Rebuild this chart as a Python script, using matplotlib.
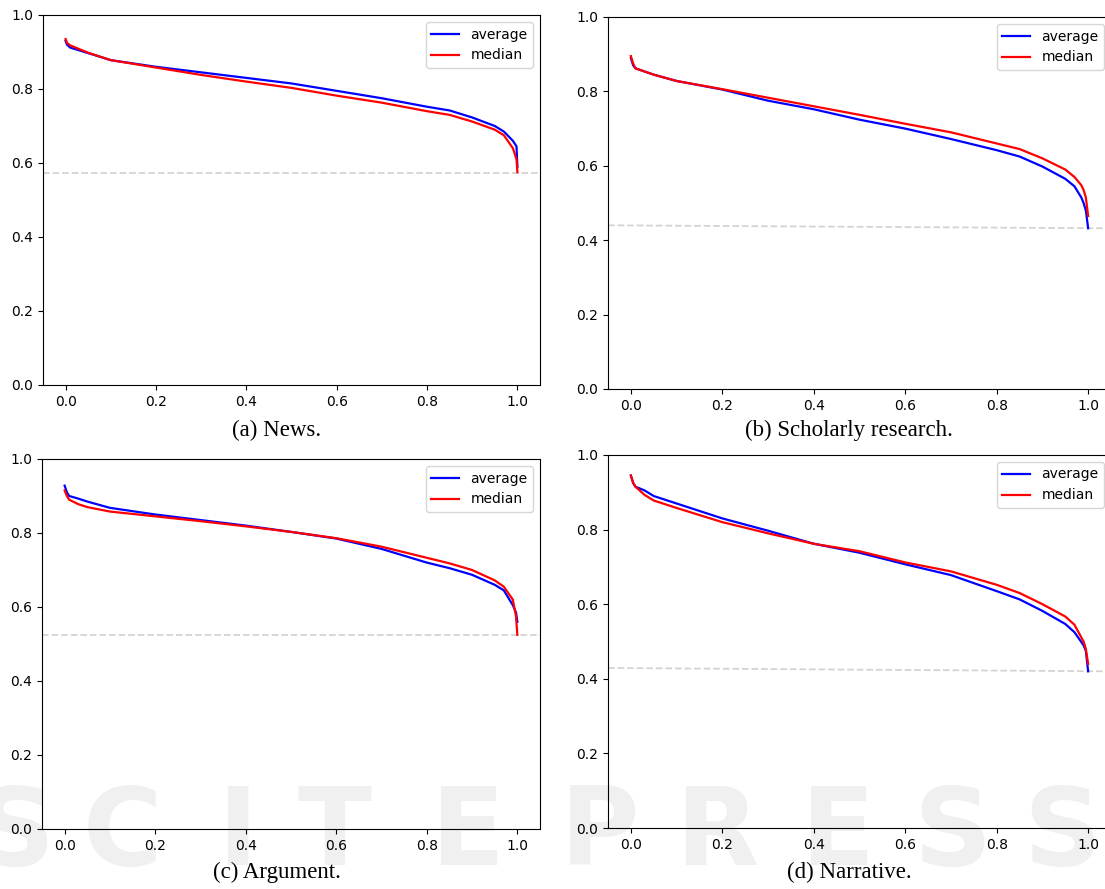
import matplotlib
matplotlib.use("Agg")
import matplotlib.pyplot as plt

W, H = 1105, 889

# ---- data ----
# (a) News
q_a = [0.0, 0.003, 0.01, 0.05, 0.1, 0.2, 0.3, 0.4, 0.5, 0.6, 0.7, 0.8, 0.85, 0.9, 0.95, 0.97, 0.99, 0.998, 1.0]
avg_a = [0.930, 0.920, 0.912, 0.897, 0.878, 0.860, 0.845, 0.830, 0.815, 0.795, 0.775, 0.752, 0.742, 0.723, 0.700, 0.685, 0.660, 0.645, 0.590]
med_a = [0.935, 0.925, 0.918, 0.898, 0.878, 0.858, 0.838, 0.820, 0.803, 0.782, 0.763, 0.740, 0.730, 0.712, 0.690, 0.675, 0.640, 0.610, 0.575]
base_a = [0.572, 0.572]

# (b) Scholarly research
q_b = [0.0, 0.005, 0.01, 0.05, 0.1, 0.2, 0.3, 0.4, 0.5, 0.6, 0.7, 0.8, 0.85, 0.9, 0.95, 0.97, 0.985, 0.99, 0.995, 1.0]
avg_b = [0.890, 0.870, 0.862, 0.845, 0.828, 0.805, 0.775, 0.752, 0.724, 0.700, 0.672, 0.642, 0.625, 0.598, 0.565, 0.545, 0.515, 0.500, 0.480, 0.432]
med_b = [0.895, 0.875, 0.862, 0.845, 0.828, 0.806, 0.783, 0.760, 0.737, 0.713, 0.690, 0.660, 0.645, 0.620, 0.590, 0.570, 0.548, 0.535, 0.515, 0.465]
base_b = [0.440, 0.432]

# (c) Argument
q_c = [0.0, 0.005, 0.01, 0.03, 0.05, 0.1, 0.2, 0.3, 0.4, 0.5, 0.6, 0.7, 0.8, 0.85, 0.9, 0.95, 0.97, 0.99, 0.997, 1.0]
avg_c = [0.928, 0.910, 0.900, 0.893, 0.885, 0.868, 0.850, 0.835, 0.820, 0.803, 0.785, 0.757, 0.720, 0.705, 0.687, 0.660, 0.645, 0.605, 0.585, 0.560]
med_c = [0.915, 0.900, 0.890, 0.878, 0.870, 0.858, 0.845, 0.832, 0.818, 0.803, 0.786, 0.763, 0.733, 0.718, 0.700, 0.672, 0.655, 0.620, 0.575, 0.525]
base_c = [0.524, 0.524]

# (d) Narrative
q_d = [0.0, 0.005, 0.01, 0.03, 0.05, 0.1, 0.2, 0.3, 0.4, 0.5, 0.6, 0.7, 0.8, 0.85, 0.9, 0.95, 0.97, 0.99, 0.995, 1.0]
avg_d = [0.945, 0.925, 0.915, 0.905, 0.890, 0.870, 0.830, 0.797, 0.762, 0.738, 0.707, 0.678, 0.635, 0.613, 0.582, 0.547, 0.525, 0.490, 0.475, 0.420]
med_d = [0.945, 0.925, 0.915, 0.893, 0.878, 0.858, 0.820, 0.790, 0.762, 0.742, 0.712, 0.688, 0.652, 0.630, 0.600, 0.567, 0.545, 0.500, 0.480, 0.440]
base_d = [0.429, 0.420]

captions = ["(a) News.", "(b) Scholarly research.", "(c) Argument.", "(d) Narrative."]
series_labels = ["average", "median"]

panels = [
    (q_a, avg_a, med_a, base_a),
    (q_b, avg_b, med_b, base_b),
    (q_c, avg_c, med_c, base_c),
    (q_d, avg_d, med_d, base_d),
]

# ---- layout (pixel boxes: left, right, top, bottom) ----
boxes = [(43, 540, 15, 385), (608, 1111, 17, 389), (42, 540, 459, 829), (608, 1111, 455, 828)]
caption_pos = [(277, 430), (849, 430), (277, 872), (849, 872)]

fig = plt.figure(figsize=(W / 100, H / 100), dpi=100)

# faint publisher watermark behind everything
wm_letters = ["S", "C", "I", "T", "E", "P", "R", "E", "S", "S"]
wm_x = [15, 122, 238, 335, 468, 600, 718, 838, 952, 1062]
for ch, xx in zip(wm_letters, wm_x):
    fig.text(xx / W, 1 - 835 / H, ch, fontsize=78, fontweight="bold", color="#f0f0f0",
             ha="center", va="center", zorder=-5, family="DejaVu Sans")

for (q, avg, med, base), (l, r, t, b), cap, (cx, cy) in zip(panels, boxes, captions, caption_pos):
    ax = fig.add_axes([l / W, 1 - b / H, (r - l) / W, (b - t) / H])
    ax.set_facecolor("none")
    ax.plot(q, avg, color="blue", lw=1.6, label=series_labels[0])
    ax.plot(q, med, color="red", lw=1.6, label=series_labels[1])
    ax.set_xlim(-0.05, 1.05)
    ax.set_ylim(0, 1.0)
    ax.plot([-0.05, 1.05], base, color="lightgray", ls="--", lw=1.3, zorder=1)
    ax.set_xticks([0.0, 0.2, 0.4, 0.6, 0.8, 1.0])
    ax.set_yticks([0.0, 0.2, 0.4, 0.6, 0.8, 1.0])
    ax.legend(loc="upper right", fontsize=10)
    fig.text(cx / W, 1 - cy / H, cap, ha="center", va="center", fontsize=16.5,
             family="Liberation Serif", zorder=5)

fig.savefig("out.png", dpi=100)
